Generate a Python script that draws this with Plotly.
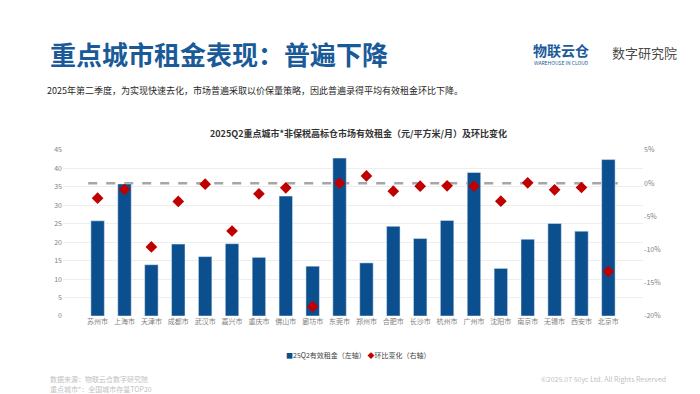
import plotly.graph_objects as go

cities = ["苏州市", "上海市", "天津市", "成都市", "武汉市", "嘉兴市", "重庆市", "佛山市", "廊坊市", "东莞市",
          "郑州市", "合肥市", "长沙市", "杭州市", "广州市", "沈阳市", "南京市", "无锡市", "西安市", "北京市"]
rent = [25.8, 35.8, 13.9, 19.5, 16.1, 19.6, 15.9, 32.5, 13.5, 42.8,
        14.4, 24.3, 21.0, 25.9, 38.9, 12.9, 20.8, 25.1, 23.0, 42.4]
qoq = [-2.25, -0.95, -9.6, -2.75, -0.15, -7.2, -1.6, -0.7, -18.6, 0.0,
       1.1, -1.2, -0.45, -0.4, -0.45, -2.7, 0.05, -1.0, -0.65, -13.3]
left_ticks = [0, 5, 10, 15, 20, 25, 30, 35, 40, 45]
right_ticks = [5, 0, -5, -10, -15, -20]
series_names = ["25Q2有效租金（左轴）", "环比变化（右轴）"]

FONT = "Noto Sans CJK SC"
BAR = "#0b4f8e"
RED = "#c00000"

# plot area in pixels
L, R, T, B = 55, 635, 142, 308
W, H = R - L, B - T


def px(x):
    return (x - L) / W


def py(y):
    return (B - y) / H


fig = go.Figure()
fig.add_trace(go.Bar(x=cities, y=rent, name=series_names[0], marker_color=BAR, yaxis="y"))
fig.add_trace(go.Scatter(x=cities, y=qoq, name=series_names[1], mode="markers",
                         marker=dict(symbol="diamond", size=9, color=RED), yaxis="y2"))

fig.add_shape(type="line", xref="x", yref="y2", x0=-0.35, x1=19.35, y0=0, y1=0,
              line=dict(color="#a6a6a6", width=2.5, dash="dash"), layer="below")

fig.update_layout(
    width=700, height=394,
    margin=dict(l=L, r=700 - R, t=T, b=394 - B),
    paper_bgcolor="white", plot_bgcolor="white",
    font=dict(family=FONT, color="#595959", size=7),
    bargap=0.5,
    showlegend=False,
    xaxis=dict(type="category", tickfont=dict(size=7, color="#7f7f7f"), showline=False,
               ticks="", showgrid=False),
    yaxis=dict(range=[0, 45], tickvals=left_ticks, tickfont=dict(size=7, color="#7f7f7f"),
               gridcolor="#eeeeee", gridwidth=1, zeroline=False, showline=False, ticks=""),
    yaxis2=dict(range=[-20, 5], tickvals=right_ticks, ticktext=[f"{v}%" for v in right_ticks],
                overlaying="y", side="right", showgrid=False, zeroline=False,
                tickfont=dict(size=7, color="#7f7f7f"), ticks=""),
)

legend_text = (f"<span style='color:{BAR}'>■</span>{series_names[0]} "
               f"<span style='color:{RED}'>◆</span>{series_names[1]}")

ann = [
    dict(text="<b>重点城市租金表现：普遍下降</b>", x=px(40), y=py(45), xanchor="left", yanchor="middle",
         font=dict(size=26, color="#1a5a99", family=FONT)),
    dict(text="2025年第二季度，为实现快速去化，市场普遍采取以价保量策略，因此普遍录得平均有效租金环比下降。",
         x=px(37), y=py(82), xanchor="left", yanchor="middle", font=dict(size=9, color="#262626", family=FONT)),
    dict(text="<b>2025Q2重点城市*非保税高标仓市场有效租金（元/平方米/月）及环比变化</b>",
         x=px(350), y=py(126), xanchor="center", yanchor="middle", font=dict(size=9, color="#333333", family=FONT)),
    dict(text=legend_text, x=px(350), y=py(347), xanchor="center", yanchor="middle",
         font=dict(size=7, color="#404040", family=FONT)),
    dict(text="<b>物联云仓</b>", x=px(553), y=py(42), xanchor="center", yanchor="middle",
         font=dict(size=14, color="#1a5a99", family=FONT)),
    dict(text="WAREHOUSE IN CLOUD", x=px(553), y=py(54), xanchor="center", yanchor="middle",
         font=dict(size=5, color="#1a5a99", family=FONT)),
    dict(text="数字研究院", x=px(636), y=py(44), xanchor="center", yanchor="middle",
         font=dict(size=13, color="#4a4a4a", family=FONT)),
    dict(text="数据来源：物联云仓数字研究院", x=px(40), y=py(371), xanchor="left", yanchor="middle",
         font=dict(size=7, color="#bfbfbf", family=FONT)),
    dict(text="重点城市*：全国城市存量TOP20", x=px(40), y=py(381), xanchor="left", yanchor="middle",
         font=dict(size=7, color="#bfbfbf", family=FONT)),
    dict(text="©2025.07 50yc Ltd. All Rights Reserved", x=px(660), y=py(371), xanchor="right", yanchor="middle",
         font=dict(size=7, color="#bfbfbf", family=FONT)),
]
for a in ann:
    fig.add_annotation(xref="paper", yref="paper", showarrow=False, **a)

fig.write_html("out.html")
